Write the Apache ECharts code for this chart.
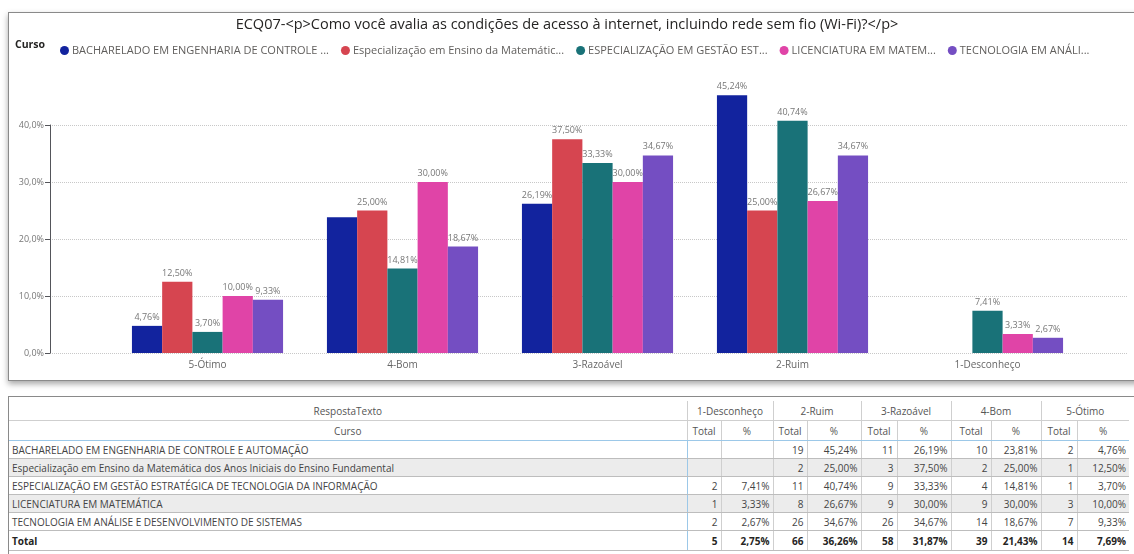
<!DOCTYPE html>
<html>
<head>
<meta charset="utf-8">
<script src="https://cdn.jsdelivr.net/npm/echarts@6/dist/echarts.min.js"></script>
<style>
  html, body { margin: 0; padding: 0; width: 1134px; height: 554px; overflow: hidden; background: #fff; font-family: "Open Sans", "Noto Sans", sans-serif; }
  #panel { position: absolute; left: 8px; top: 12px; width: 1140px; height: 367px; border: 1px solid #8a8a8a; background: #fff; box-shadow: 0 3px 6px rgba(0,0,0,0.35); }
  #chart { position: absolute; left: 0; top: 0; width: 1134px; height: 392px; }
  #tpanel { position: absolute; left: 8px; top: 396px; width: 1140px; height: 170px; border: 1px solid #8a8a8a; background: #fff; }
  table { border-collapse: collapse; font-size: 10px; color: #444; position: absolute; left: 0; top: 4px; table-layout: fixed; }
  td { padding: 0 3px; height: 17px; white-space: nowrap; overflow: hidden; }
  .hd td { text-align: center; color: #555; height: 19px; border-bottom: 1px solid #cfcfcf; }
  .hd td.g { border-left: 1px solid #cfcfcf; }
  .hd2 td { border-bottom: 1px solid #9cc8e8; }
  .row td { border-bottom: 1px solid #bdbdbd; }
  .row td.n { text-align: right; }
  .row td.l { border-left: 1px solid #cfcfcf; }
  .row td.b { border-left: 1px solid #9cc8e8; }
  .alt td { background: #ececec; }
  .tot td { font-weight: bold; color: #252423; height: 19px; }
</style>
</head>
<body>
<div id="panel"></div>
<div id="chart"></div>
<div id="tpanel"><table id="tbl"></table></div>
<script>
var myChart = echarts.init(document.getElementById("chart"));

const titulo = "ECQ07-<p>Como você avalia as condições de acesso à internet, incluindo rede sem fio (Wi-Fi)?</p>";
const categorias = ["5-Ótimo", "4-Bom", "3-Razoável", "2-Ruim", "1-Desconheço"];
const cursos = [
  "BACHARELADO EM ENGENHARIA DE CONTROLE E AUTOMAÇÃO",
  "Especialização em Ensino da Matemática dos Anos Iniciais do Ensino Fundamental",
  "ESPECIALIZAÇÃO EM GESTÃO ESTRATÉGICA DE TECNOLOGIA DA INFORMAÇÃO",
  "LICENCIATURA EM MATEMÁTICA",
  "TECNOLOGIA EM ANÁLISE E DESENVOLVIMENTO DE SISTEMAS",
];
const legendaCurta = [
  "BACHARELADO EM ENGENHARIA DE CONTROLE ...",
  "Especialização em Ensino da Matemátic...",
  "ESPECIALIZAÇÃO EM GESTÃO EST...",
  "LICENCIATURA EM MATEM...",
  "TECNOLOGIA EM ANÁLI...",
];
const cores = ["#12239E", "#D64550", "#197278", "#E044A7", "#744EC2"];

// percentuais por curso, na ordem de categorias (5-Ótimo ... 1-Desconheço)
const pctBacharelado = [4.76, 23.81, 26.19, 45.24, null];
const pctEspMatematica = [12.5, 25.0, 37.5, 25.0, null];
const pctEspGestao = [3.7, 14.81, 33.33, 40.74, 7.41];
const pctLicenciatura = [10.0, 30.0, 30.0, 26.67, 3.33];
const pctTecnologia = [9.33, 18.67, 34.67, 34.67, 2.67];
// contagens por curso, mesma ordem
const totBacharelado = [2, 10, 11, 19, null];
const totEspMatematica = [1, 2, 3, 2, null];
const totEspGestao = [1, 4, 9, 11, 2];
const totLicenciatura = [3, 9, 9, 8, 1];
const totTecnologia = [7, 14, 26, 26, 2];
// linha Total
const totGeral = [14, 39, 58, 66, 5];
const pctGeral = [7.69, 21.43, 31.87, 36.26, 2.75];

const pcts = [pctBacharelado, pctEspMatematica, pctEspGestao, pctLicenciatura, pctTecnologia];
const tots = [totBacharelado, totEspMatematica, totEspGestao, totLicenciatura, totTecnologia];

function fmtPct(v) {
  return v.toFixed(2).replace(".", ",") + "%";
}

const option = {
  animation: false,
  textStyle: { fontFamily: "Open Sans" },
  title: {
    text: titulo,
    left: "center",
    top: 12,
    textStyle: { fontSize: 14.5, fontWeight: "normal", color: "#252423" },
  },
  graphic: [
    {
      type: "text",
      left: 15,
      top: 40,
      style: { text: "Curso", fontSize: 10.5, fontWeight: "bold", fill: "#252423", fontFamily: "Open Sans" },
    },
  ],
  legend: {
    data: cursos,
    left: 55,
    top: 40,
    icon: "circle",
    itemWidth: 9,
    itemHeight: 9,
    itemGap: 12,
    textStyle: { fontSize: 11, color: "#605E5C", padding: [0, 0, 0, -2] },
    formatter: function (name) {
      return legendaCurta[cursos.indexOf(name)];
    },
  },
  grid: [
    // somente linhas de grade e rótulos do eixo y
    { left: 50, right: 6, top: 125, bottom: 39 },
    // barras
    { left: 110, right: 49, top: 68, bottom: 39 },
  ],
  xAxis: [
    { gridIndex: 0, type: "value", show: false },
    {
      gridIndex: 1,
      type: "category",
      data: categorias,
      axisLine: { show: false },
      axisTick: { show: false },
      axisLabel: { color: "#666", fontSize: 10, margin: 7 },
    },
  ],
  yAxis: [
    {
      gridIndex: 0,
      type: "value",
      min: 0,
      max: 40,
      interval: 10,
      axisLabel: {
        color: "#777",
        fontSize: 9,
        margin: 6,
        formatter: function (v) {
          return v.toFixed(1).replace(".", ",") + "%";
        },
      },
      splitLine: { lineStyle: { color: "#c8c8c8", type: "dotted" } },
    },
    { gridIndex: 1, type: "value", min: 0, max: 50, show: false },
  ],
  series: cursos.map(function (c, i) {
    return {
      name: c,
      type: "bar",
      xAxisIndex: 1,
      yAxisIndex: 1,
      data: pcts[i],
      barGap: 0,
      barCategoryGap: "22.5%",
      itemStyle: { color: cores[i] },
      label: {
        show: true,
        position: "top",
        distance: 4,
        fontSize: 9,
        color: "#777",
        formatter: function (p) {
          return fmtPct(p.value);
        },
      },
    };
  }),
  labelLayout: { hideOverlap: true },
};

myChart.setOption(option);

// tabela (colunas na ordem 1-Desconheço ... 5-Ótimo)
var ordem = [4, 3, 2, 1, 0];
var larg = [678, 34, 52, 34, 54, 36, 54, 40, 50, 36, 52];
var html = "<colgroup>" + larg.map(function (w) { return '<col style="width:' + w + 'px">'; }).join("") + "</colgroup>";
html += '<tr class="hd"><td>RespostaTexto</td>';
ordem.forEach(function (k) { html += '<td class="g" colspan="2">' + categorias[k] + "</td>"; });
html += "</tr>";
html += '<tr class="hd hd2"><td>Curso</td>';
ordem.forEach(function () { html += '<td class="g">Total</td><td class="g">%</td>'; });
html += "</tr>";
cursos.forEach(function (c, i) {
  html += '<tr class="row' + (i % 2 === 1 ? " alt" : "") + '"><td>' + c + "</td>";
  ordem.forEach(function (k, j) {
    var t = tots[i][k], p = pcts[i][k];
    html += '<td class="n ' + (j === 0 ? "b" : "l") + '">' + (t == null ? "" : t) + '</td><td class="n l">' + (p == null ? "" : fmtPct(p)) + "</td>";
  });
  html += "</tr>";
});
html += '<tr class="row tot"><td>Total</td>';
ordem.forEach(function (k, j) {
  html += '<td class="n ' + (j === 0 ? "b" : "l") + '">' + totGeral[k] + '</td><td class="n l">' + fmtPct(pctGeral[k]) + "</td>";
});
html += "</tr>";
document.getElementById("tbl").innerHTML = html;
</script>
</body>
</html>
